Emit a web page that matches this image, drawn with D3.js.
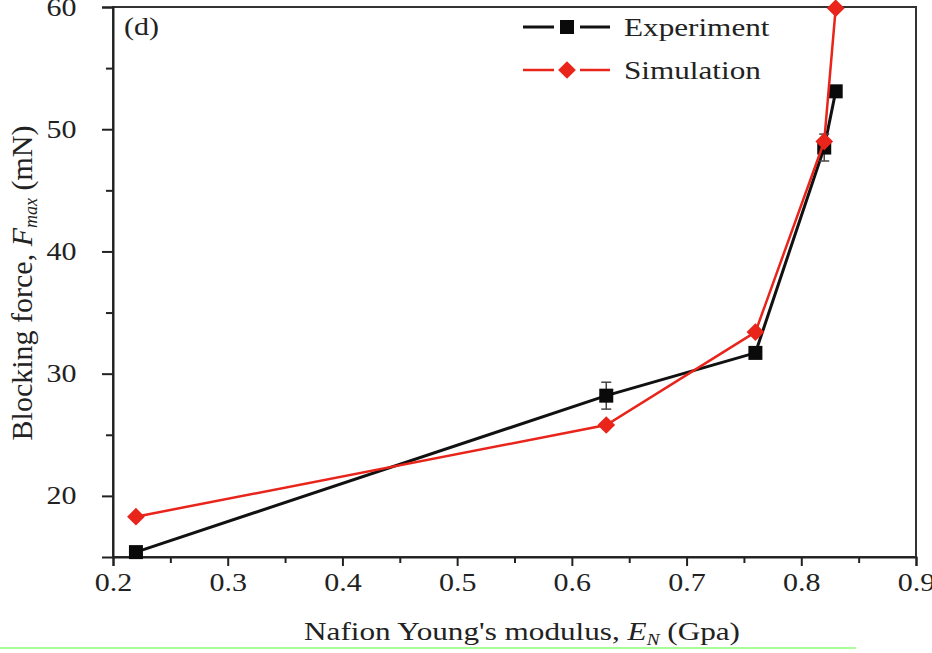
<!DOCTYPE html>
<html>
<head>
<meta charset="utf-8">
<script src="https://cdn.jsdelivr.net/npm/d3@7"></script>
<style>
  body { margin: 0; background: #fff; }
  svg text { font-family: "Times New Roman", "Liberation Serif", Tinos, Times, serif; fill: #222; }
  .wide { transform-box: fill-box; transform-origin: center; transform: scaleX(1.2); }
</style>
</head>
<body>
<script>
// values
var modulus = [0.22, 0.63, 0.76, 0.82, 0.83];
var experiment = [15.4, 28.2, 31.7, 48.5, 53.1];
var expError = [0, 1.1, 0, 1.1, 0];
var simulation = [18.3, 25.8, 33.4, 49.0, 59.9];
var xTicks = [0.2, 0.3, 0.4, 0.5, 0.6, 0.7, 0.8, 0.9];
var yTicks = [20, 30, 40, 50, 60];

var width = 932, height = 653;
var margin = { top: 7, right: 16, bottom: 96, left: 113 };

var svg = d3.select("body").append("svg")
  .attr("width", width)
  .attr("height", height);

var x = d3.scaleLinear().domain([0.2, 0.9]).range([margin.left, width - margin.right]);
var y = d3.scaleLinear().domain([15, 60]).range([height - margin.bottom, margin.top]);

// frame
svg.append("rect")
  .attr("x", margin.left).attr("y", margin.top)
  .attr("width", width - margin.left - margin.right)
  .attr("height", height - margin.top - margin.bottom)
  .attr("fill", "none").attr("stroke", "#333").attr("stroke-width", 2);

// minor ticks
svg.append("g")
  .attr("transform", "translate(0," + (height - margin.bottom) + ")")
  .call(d3.axisBottom(x).tickValues([0.25, 0.35, 0.45, 0.55, 0.65, 0.75, 0.85]).tickSize(6).tickFormat(""))
  .call(g => g.select(".domain").remove())
  .selectAll("line").attr("stroke", "#222").attr("stroke-width", 2);

svg.append("g")
  .attr("transform", "translate(" + margin.left + ",0)")
  .call(d3.axisLeft(y).tickValues([25, 35, 45, 55]).tickSize(7).tickFormat(""))
  .call(g => g.select(".domain").remove())
  .selectAll("line").attr("stroke", "#222").attr("stroke-width", 2);

// major ticks
var xAxis = svg.append("g")
  .attr("transform", "translate(0," + (height - margin.bottom) + ")")
  .call(d3.axisBottom(x).tickValues(xTicks).tickSize(9).tickPadding(7).tickFormat(d3.format(".1f")));
xAxis.select(".domain").attr("stroke", "#222").attr("stroke-width", 2);
xAxis.selectAll("line").attr("stroke", "#222").attr("stroke-width", 2);
xAxis.selectAll("text").attr("class", "wide").style("font-size", "25px").attr("fill", "#333");

var yAxis = svg.append("g")
  .attr("transform", "translate(" + margin.left + ",0)")
  .call(d3.axisLeft(y).tickValues(yTicks).tickSize(11).tickPadding(28));
yAxis.select(".domain").attr("stroke", "#222").attr("stroke-width", 2);
yAxis.selectAll("line").attr("stroke", "#222").attr("stroke-width", 2);
yAxis.selectAll("text").attr("class", "wide").style("font-size", "25px").attr("fill", "#333");

// axis titles
var xt = svg.append("text")
  .attr("transform", "translate(522,640) scale(1.2,1)")
  .attr("text-anchor", "middle")
  .style("font-size", "26px");
xt.append("tspan").text("Nafion Young's modulus, ");
xt.append("tspan").style("font-style", "italic").text("E");
xt.append("tspan").style("font-style", "italic").style("font-size", "16px").attr("dy", 5).text("N");
xt.append("tspan").attr("dy", -5).text(" (Gpa)");

var yt = svg.append("text")
  .attr("transform", "translate(32,283) rotate(-90)")
  .attr("text-anchor", "middle")
  .style("font-size", "30px");
yt.append("tspan").text("Blocking force, ");
yt.append("tspan").style("font-style", "italic").text("F");
yt.append("tspan").style("font-style", "italic").style("font-size", "18px").attr("dy", 5).text("max");
yt.append("tspan").attr("dy", -5).text(" (mN)");

svg.append("text")
  .attr("transform", "translate(124,35) scale(1.2,1)")
  .style("font-size", "25px")
  .text("(d)");

// series
var line = d3.line().x(d => x(d[0])).y(d => y(d[1]));
var expData = modulus.map((m, i) => [m, experiment[i], expError[i]]);
var simData = modulus.map((m, i) => [m, simulation[i]]);

svg.append("path")
  .datum(expData)
  .attr("d", line)
  .attr("fill", "none").attr("stroke", "#111").attr("stroke-width", 3);

// error bars
var eb = svg.append("g").attr("stroke", "#444").attr("stroke-width", 1.5);
expData.filter(d => d[2] > 0).forEach(function (d) {
  eb.append("line").attr("x1", x(d[0])).attr("x2", x(d[0])).attr("y1", y(d[1] - d[2])).attr("y2", y(d[1] + d[2]));
  eb.append("line").attr("x1", x(d[0]) - 5).attr("x2", x(d[0]) + 5).attr("y1", y(d[1] - d[2])).attr("y2", y(d[1] - d[2]));
  eb.append("line").attr("x1", x(d[0]) - 5).attr("x2", x(d[0]) + 5).attr("y1", y(d[1] + d[2])).attr("y2", y(d[1] + d[2]));
});

svg.selectAll(".sq")
  .data(expData)
  .enter().append("rect")
  .attr("class", "sq")
  .attr("x", d => x(d[0]) - 7).attr("y", d => y(d[1]) - 7)
  .attr("width", 14).attr("height", 14)
  .attr("fill", "#0a0a0a");

svg.append("path")
  .datum(simData)
  .attr("d", line)
  .attr("fill", "none").attr("stroke", "#e8241b").attr("stroke-width", 2.5);

var diamond = d3.symbol().type(d3.symbolDiamond2).size(200);
svg.selectAll(".dm")
  .data(simData)
  .enter().append("path")
  .attr("class", "dm")
  .attr("transform", d => "translate(" + x(d[0]) + "," + y(d[1]) + ")")
  .attr("d", diamond)
  .attr("fill", "#e8241b");

// legend
var legend = [
  { name: "Experiment", color: "#111", y: 27, marker: "square" },
  { name: "Simulation", color: "#e8241b", y: 70, marker: "diamond" }
];
legend.forEach(function (l) {
  var w = l.marker == "square" ? 3 : 2.5;
  svg.append("line").attr("x1", 523).attr("x2", 554).attr("y1", l.y).attr("y2", l.y)
    .attr("stroke", l.color).attr("stroke-width", w);
  svg.append("line").attr("x1", 580).attr("x2", 610).attr("y1", l.y).attr("y2", l.y)
    .attr("stroke", l.color).attr("stroke-width", w);
  if (l.marker == "square") {
    svg.append("rect").attr("x", 560).attr("y", l.y - 7).attr("width", 14).attr("height", 14).attr("fill", "#0a0a0a");
  } else {
    svg.append("path").attr("transform", "translate(567," + l.y + ")").attr("d", diamond).attr("fill", l.color);
  }
  svg.append("text")
    .attr("transform", "translate(624," + (l.y + 9) + ") scale(1.2,1)")
    .style("font-size", "26px")
    .text(l.name);
});

// light green rule at the bottom of the picture
svg.append("line")
  .attr("x1", 0).attr("x2", 856).attr("y1", 648).attr("y2", 648)
  .attr("stroke", "#a8ff98").attr("stroke-width", 2);
</script>
</body>
</html>
